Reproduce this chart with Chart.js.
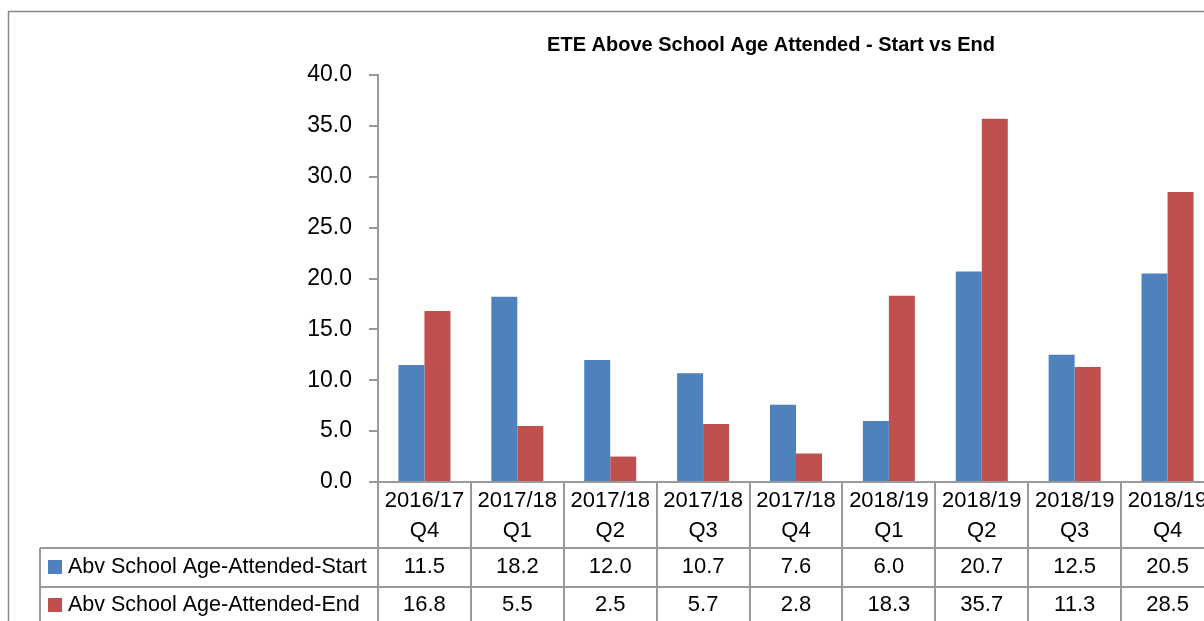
<!DOCTYPE html>
<html>
<head>
<meta charset="utf-8">
<script src="https://cdn.jsdelivr.net/npm/chart.js@4.4.0/dist/chart.umd.min.js"></script>
<style>
  html, body { margin: 0; padding: 0; background: #fff; overflow: hidden; }
  #wrap { width: 1204px; height: 621px; overflow: hidden; }
  canvas { display: block; }
</style>
</head>
<body>
<div id="wrap"><canvas id="chart" width="1240" height="660"></canvas></div>
<script>
const periods = ['2016/17', '2017/18', '2017/18', '2017/18', '2017/18', '2018/19', '2018/19', '2018/19', '2018/19'];
const quarters = ['Q4', 'Q1', 'Q2', 'Q3', 'Q4', 'Q1', 'Q2', 'Q3', 'Q4'];
const startValues = [11.5, 18.2, 12.0, 10.7, 7.6, 6.0, 20.7, 12.5, 20.5];
const endValues = [16.8, 5.5, 2.5, 5.7, 2.8, 18.3, 35.7, 11.3, 28.5];
const seriesNames = ['Abv School Age-Attended-Start', 'Abv School Age-Attended-End'];
const yTicks = [0, 5, 10, 15, 20, 25, 30, 35, 40];
const chartTitle = 'ETE Above School Age Attended - Start vs End';

const FONT = '"Liberation Sans", Arial, sans-serif';
const lineColor = '#9a9a9a';

// outer frame + title (Excel centres it on the whole chart object, not the plot)
const frameAndTitle = {
  id: 'frameAndTitle',
  beforeDraw(chart) {
    const ctx = chart.ctx;
    ctx.save();
    ctx.strokeStyle = '#868686';
    ctx.lineWidth = 1.5;
    ctx.strokeRect(8.5, 11.5, 2000, 2000);
    ctx.fillStyle = '#000';
    ctx.font = 'bold 20px ' + FONT;
    ctx.textAlign = 'center';
    ctx.textBaseline = 'middle';
    ctx.fillText(chartTitle, 771, 45);
    ctx.restore();
  },
};

// Excel-style data table under the plot, columns follow the x scale
const dataTable = {
  id: 'dataTable',
  afterDraw(chart) {
    const {ctx, chartArea: area, scales: {x}} = chart;
    const n = periods.length;
    const colW = (area.right - area.left) / n;
    const top = area.bottom;
    const row1 = top + 66;
    const row2 = row1 + 39;
    const row3 = row2 + 39;
    const legendLeft = 40;
    const right = area.right;

    ctx.save();
    ctx.strokeStyle = lineColor;
    ctx.lineWidth = 2;
    ctx.beginPath();
    ctx.moveTo(area.left, top);
    ctx.lineTo(right, top);
    [row1, row2, row3].forEach((y) => {
      ctx.moveTo(legendLeft, y);
      ctx.lineTo(right, y);
    });
    for (let i = 0; i <= n; i++) {
      const cx = Math.round(area.left + i * colW);
      ctx.moveTo(cx, top);
      ctx.lineTo(cx, row3);
    }
    ctx.moveTo(legendLeft, row1);
    ctx.lineTo(legendLeft, row3);
    ctx.stroke();

    ctx.fillStyle = '#000';
    ctx.font = '22px ' + FONT;
    ctx.textAlign = 'center';
    ctx.textBaseline = 'middle';
    for (let i = 0; i < n; i++) {
      const cx = x.getPixelForValue(i);
      ctx.fillText(periods[i], cx, top + 19);
      ctx.fillText(quarters[i], cx, top + 49);
      ctx.fillText(startValues[i].toFixed(1), cx, row1 + 19);
      ctx.fillText(endValues[i].toFixed(1), cx, row2 + 18);
    }

    ctx.textAlign = 'left';
    ctx.font = '21.5px ' + FONT;
    chart.data.datasets.forEach((ds, k) => {
      const cy = (k === 0 ? row1 + 19 : row2 + 18);
      ctx.fillStyle = ds.backgroundColor;
      ctx.fillRect(48, cy - 7, 14, 14);
      ctx.fillStyle = '#000';
      ctx.fillText(seriesNames[k], 68, cy);
    });
    ctx.restore();
  }
};

const labels = periods.map((p, i) => p + ' ' + quarters[i]);

new Chart(document.getElementById('chart'), {
  type: 'bar',
  data: {
    labels: labels,
    datasets: [
      {
        label: seriesNames[0],
        data: startValues,
        backgroundColor: '#4F81BD',
        categoryPercentage: 0.56,
        barPercentage: 1.0,
      },
      {
        label: seriesNames[1],
        data: endValues,
        backgroundColor: '#C0504D',
        categoryPercentage: 0.56,
        barPercentage: 1.0,
      },
    ],
  },
  options: {
    responsive: false,
    animation: false,
    layout: {
      padding: {left: 8, right: 26, top: 75, bottom: 178},
    },
    plugins: {
      legend: {display: false},
      tooltip: {enabled: false},
      title: {display: false},
    },
    scales: {
      x: {
        display: false,
      },
      y: {
        min: 0,
        max: 40,
        afterBuildTicks: (scale) => {
          scale.ticks = yTicks.map((v) => ({value: v}));
        },
        afterFit: (scale) => {
          scale.width = 370;
        },
        ticks: {
          color: '#000',
          padding: 17,
          font: {family: FONT, size: 23},
          callback: (v) => Number(v).toFixed(1),
        },
        grid: {
          drawOnChartArea: false,
          drawTicks: true,
          tickLength: 9,
          color: lineColor,
          lineWidth: 2,
        },
        border: {color: lineColor, width: 2},
      },
    },
  },
  plugins: [frameAndTitle, dataTable],
});
</script>
</body>
</html>
